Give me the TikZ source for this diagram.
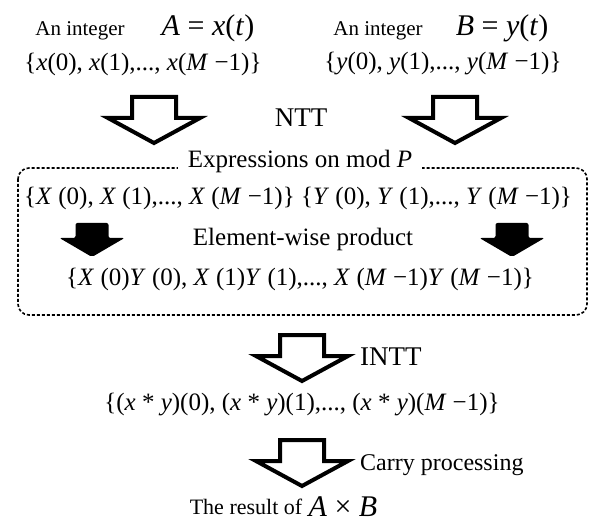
\documentclass[tikz,border=0pt]{standalone}
\usepackage{fontspec}
\setmainfont{Liberation Serif}
\usetikzlibrary{positioning}
\newcommand{\mv}[1]{\textit{#1}}

\begin{document}
\begin{tikzpicture}[x=1pt,y=-1pt,
  smalltxt/.style={font=\fontsize{21}{24}\selectfont, inner sep=0pt},
  txt/.style={font=\fontsize{25}{29}\selectfont, inner sep=0pt},
  bigtxt/.style={font=\fontsize{30}{34}\selectfont, inner sep=0pt},
  hollowarrow/.pic={\draw[line width=4pt, fill=white] (-22,0) -- (22,0) -- (22,21) -- (46,21) -- (0,46) -- (-46,21) -- (-22,21) -- cycle;},
  solidarrow/.pic={\fill[rounded corners=2pt] (-16.5,0) -- (16.5,0) -- (16.5,15) -- (32.5,15) -- (0,34) -- (-32.5,15) -- (-16.5,15) -- cycle;}]
\useasboundingbox (0,0) rectangle (589,529);
\draw[line width=1.6pt, dash pattern=on 3pt off 2pt, rounded corners=11pt] (18,168) rectangle (587,315);
\node[smalltxt] (intA) at (80,31) {An integer};
\node[bigtxt] (eqA) at (208,28) {\mv{A} = \mv{x}(\mv{t})};
\node[txt] (seqx) at (143,64) {\{\mv{x}(0), \mv{x}(1),..., \mv{x}(\mv{M} −1)\}};
\node[smalltxt] (intB) at (378,31) {An integer};
\node[bigtxt] (eqB) at (502,28) {\mv{B} = \mv{y}(\mv{t})};
\node[txt] (seqy) at (443,64) {\{\mv{y}(0), \mv{y}(1),..., \mv{y}(\mv{M} −1)\}};
\pic (ntta) at (154,97) {hollowarrow};
\pic (nttb) at (455,97) {hollowarrow};
\node[txt, font=\fontsize{27}{31}\selectfont] (ntt) at (301,118) {NTT};
\node[txt, fill=white, inner xsep=10pt] (modp) at (300,161) {Expressions on mod \mv{P}};
\node[txt] (seqXY) at (298,198) {\{\mv{X} (0), \mv{X} (1),..., \mv{X} (\mv{M} −1)\} \{\mv{Y} (0), \mv{Y} (1),..., \mv{Y} (\mv{M} −1)\}};
\pic (prda) at (92,223) {solidarrow};
\pic (prdb) at (512,223) {solidarrow};
\node[txt] (ewp) at (303,239) {Element-wise product};
\node[txt] (seqprod) at (300,279) {\{\mv{X} (0)\mv{Y} (0), \mv{X} (1)\mv{Y} (1),..., \mv{X} (\mv{M} −1)\mv{Y} (\mv{M} −1)\}};
\pic (intt) at (302,335) {hollowarrow};
\node[txt, font=\fontsize{27}{31}\selectfont, anchor=west] (inttlbl) at (360,357) {INTT};
\node[txt] (conv) at (302,405) {\{(\mv{x} * \mv{y})(0), (\mv{x} * \mv{y})(1),..., (\mv{x} * \mv{y})(\mv{M} −1)\}};
\pic (carry) at (302,440) {hollowarrow};
\node[txt, font=\fontsize{24}{28}\selectfont, anchor=west] (carrylbl) at (360,465) {Carry processing};
\node[smalltxt, font=\fontsize{22}{26}\selectfont] (res) at (246,507) {The result of};
\node[bigtxt, right=6pt of res] (resAB) {\mv{A} × \mv{B}};
\end{tikzpicture}
\end{document}
